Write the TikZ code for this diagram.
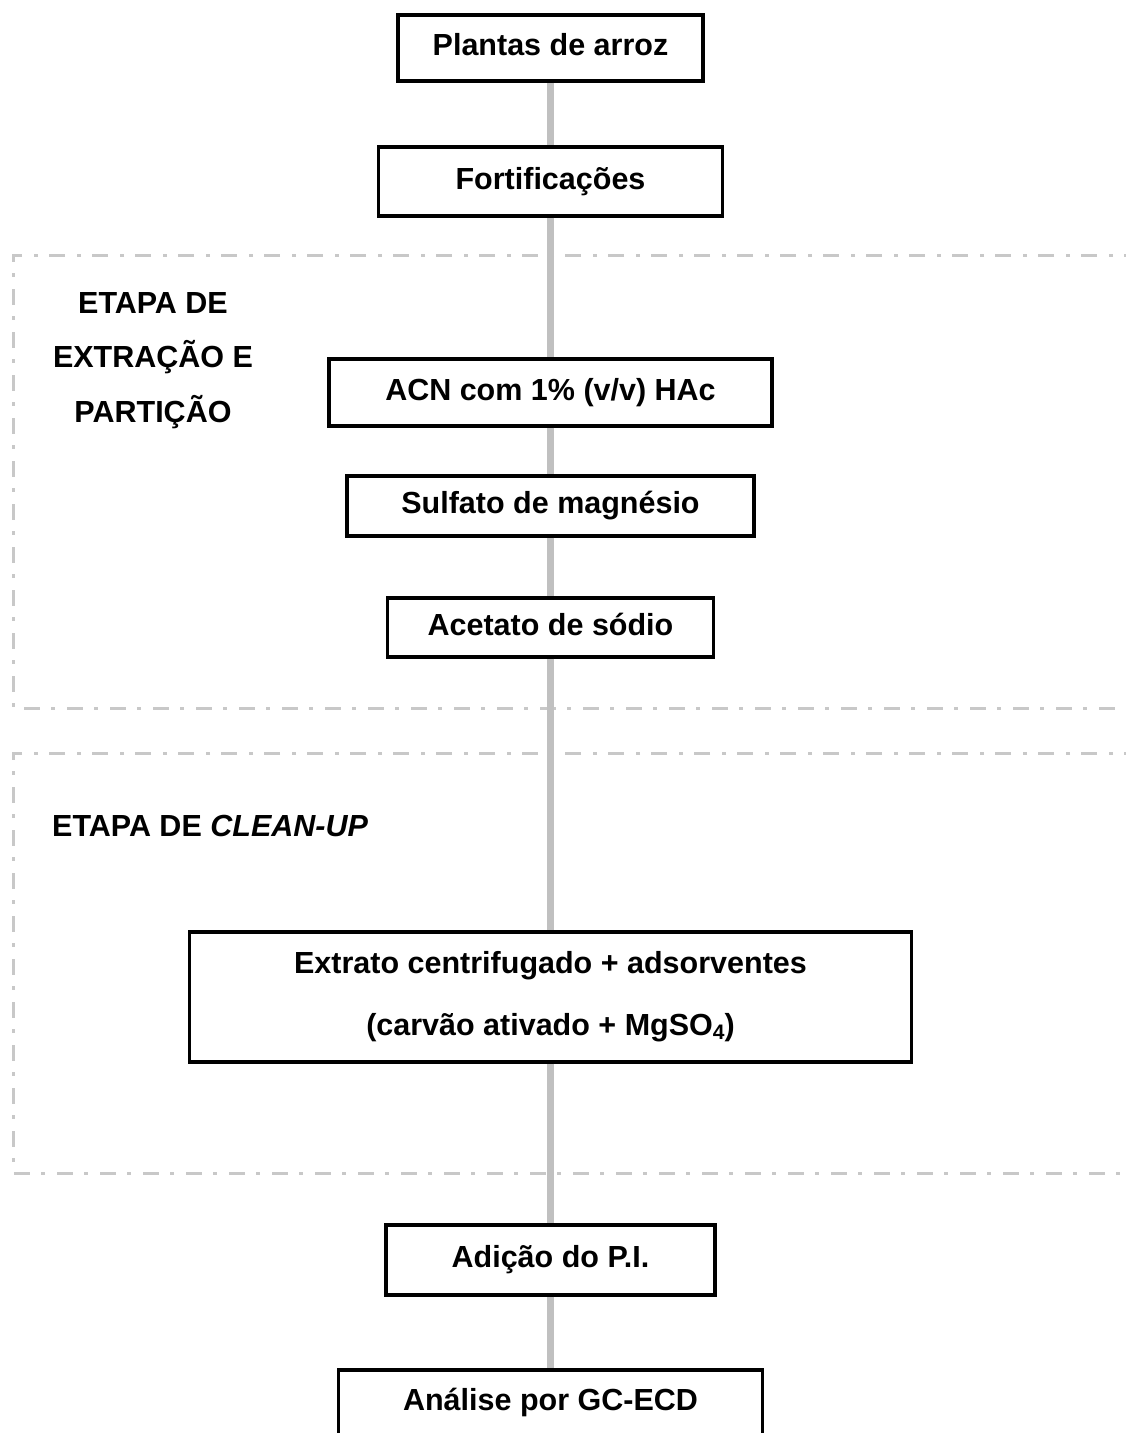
\documentclass[tikz,border=0pt]{standalone}
\usepackage{fontspec}
\setmainfont{Liberation Sans}
\usetikzlibrary{calc}
\definecolor{flowgray}{RGB}{192,192,192}
\definecolor{stagegray}{RGB}{200,200,200}
\newcommand{\subnum}[1]{\raisebox{-0.12em}{\fontsize{21}{21}\selectfont #1}}

\begin{document}
\begin{tikzpicture}[x=1pt, y=-1pt,
    stepbox/.style={draw, line width=3.5pt, fill=white, inner sep=0pt,
      font=\fontsize{30.5}{37}\selectfont\bfseries, text height=22pt, text depth=7pt},
    flowline/.style={draw=flowgray, line width=7pt},
    stageline/.style={draw=stagegray, line width=3pt, dash pattern=on 16pt off 11pt on 4pt off 12pt},
    stagelabel/.style={inner sep=0pt, align=center, font=\fontsize{30.5}{54.5}\selectfont\bfseries}]
    \useasboundingbox (0,0) rectangle (1125,1433);
    % etapas
    \draw[stageline] (1140,255) -- (13,255) -- (13,708) -- (1140,708);
    \draw[stageline] (1140,753) -- (13,753) -- (13,1173) -- (1140,1173);
    \node[stagelabel] (extracao) at (153,360.5) {ETAPA DE\\EXTRAÇÃO E\\PARTIÇÃO};
    \node[stagelabel, anchor=base west] (cleanup) at (52,836) {ETAPA DE \textit{CLEAN-UP}};
    % caixas
    \node[stepbox, minimum width=305pt, minimum height=66pt] (plantas) at (550.5,48) {Plantas de arroz};
    \node[stepbox, minimum width=344pt, minimum height=69pt] (fortif) at (550.5,181.5) {Fortificações};
    \node[stepbox, minimum width=443pt, minimum height=67pt] (acn) at (550.5,392.5) {ACN com 1\% (v/v) HAc};
    \node[stepbox, minimum width=407pt, minimum height=60pt] (sulfato) at (550.5,506) {Sulfato de magnésio};
    \node[stepbox, minimum width=326pt, minimum height=59pt] (acetato) at (550.5,627.5) {Acetato de sódio};
    \node[stepbox, minimum width=722pt, minimum height=130pt, align=center,
      font=\fontsize{30.5}{62}\selectfont\bfseries, text height=, text depth=] (extrato) at (550.5,997)
      {Extrato centrifugado + adsorventes\\(carvão ativado + MgSO\subnum{4})};
    \node[stepbox, minimum width=329pt, minimum height=70pt] (adicao) at (550.5,1260) {Adição do P.I.};
    \node[stepbox, minimum width=424pt, minimum height=66pt] (analise) at (550.5,1403) {Análise por GC-ECD};
    % ligações
    \draw[flowline] (plantas) -- (fortif);
    \draw[flowline] (fortif) -- (acn);
    \draw[flowline] (acn) -- (sulfato);
    \draw[flowline] (sulfato) -- (acetato);
    \draw[flowline] (acetato) -- (extrato);
    \draw[flowline] (extrato) -- (adicao);
    \draw[flowline] (adicao) -- (analise);
\end{tikzpicture}
\end{document}
